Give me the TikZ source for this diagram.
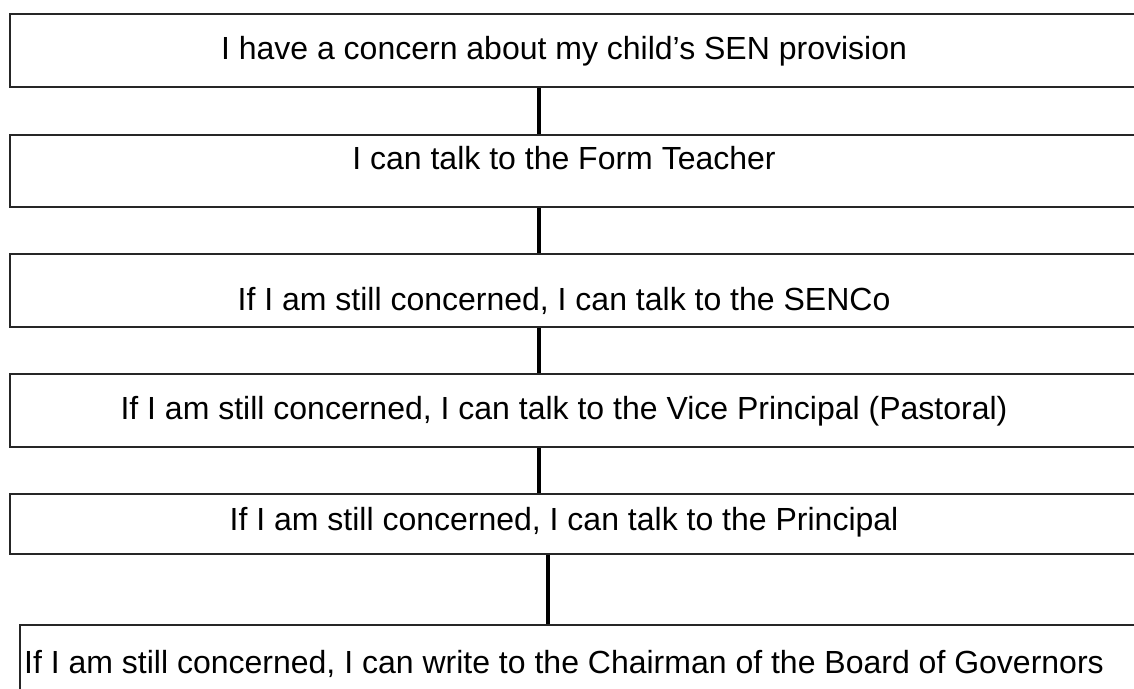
\documentclass[tikz,border=0pt]{standalone}
\usepackage{fontspec}
\setmainfont{Liberation Sans}
\tikzset{
  stage/.style={draw=black!85, line width=1.6pt, rectangle, inner sep=0pt},
  say/.style={anchor=base, inner sep=0pt, font=\fontsize{32}{38}\selectfont},
  link/.style={draw=black, line width=3.2pt}
}
\begin{document}
\begin{tikzpicture}[x=1pt,y=1pt]
      \useasboundingbox (0,0) rectangle (1134,-688);
      \clip (0,0) rectangle (1134,-688);
      \fill[white] (0,0) rectangle (1134,-688);
      \draw
        (580,-50.5) node[stage, minimum width=1140pt, minimum height=73pt] (s1){}
        (580,-171) node[stage, minimum width=1140pt, minimum height=72pt] (s2){}
        (580,-290.5) node[stage, minimum width=1140pt, minimum height=73pt] (s3){}
        (580,-410.5) node[stage, minimum width=1140pt, minimum height=73pt] (s4){}
        (580,-524) node[stage, minimum width=1140pt, minimum height=60pt] (s5){}
        (585,-672.5) node[stage, minimum width=1130pt, minimum height=95pt] (s6){};
      \path
        (564,-59) node[say]{I have a concern about my child’s SEN provision}
        (564,-169) node[say]{I can talk to the Form Teacher}
        (564,-310) node[say]{If I am still concerned, I can talk to the SENCo}
        (564,-419) node[say]{If I am still concerned, I can talk to the Vice Principal (Pastoral)}
        (564,-530) node[say]{If I am still concerned, I can talk to the Principal}
        (564,-673) node[say]{If I am still concerned, I can write to the Chairman of the Board of Governors};
      \coordinate (up) at (539,0);
      \coordinate (down) at (548,0);
      \begin{scope}[link]
        \draw (s1.south -| up) to (s2.north -| up);
        \draw (s2.south -| up) to (s3.north -| up);
        \draw (s3.south -| up) to (s4.north -| up);
        \draw (s4.south -| up) to (s5.north -| up);
        \draw (s5.south -| down) to (s6.north -| down);
      \end{scope}
    \end{tikzpicture}
\end{document}
